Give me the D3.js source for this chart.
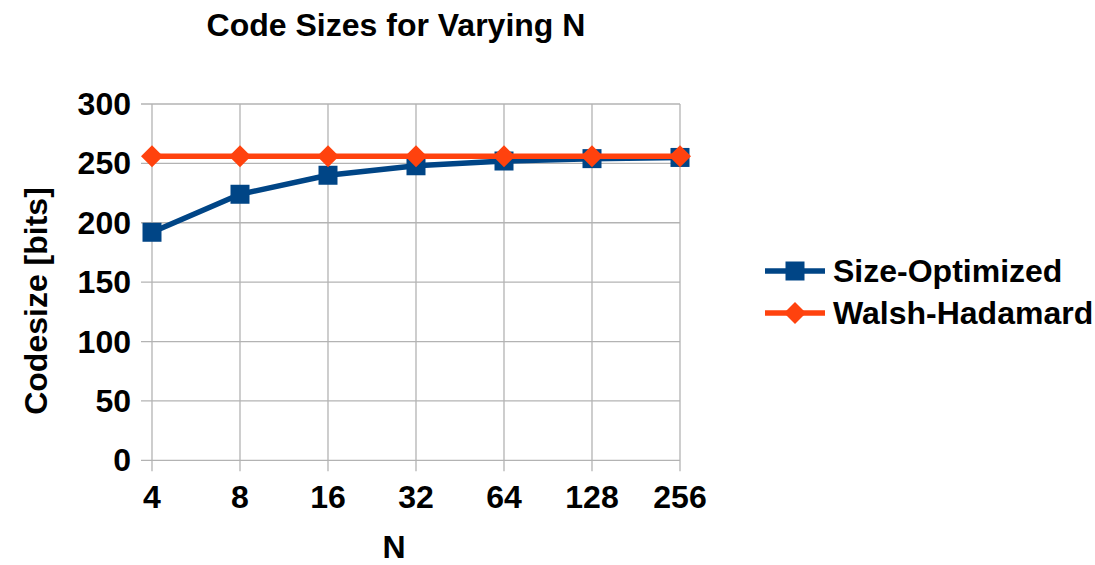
<!DOCTYPE html>
<html>
<head>
<meta charset="utf-8">
<script src="https://cdn.jsdelivr.net/npm/d3@7"></script>
<style>
  html, body { margin: 0; padding: 0; background: #fff; }
  svg text { font-family: "Liberation Sans", Arial, sans-serif; font-weight: bold; fill: #000; }
</style>
</head>
<body>
<svg id="chart" width="1095" height="565"></svg>
<script>
// Code length per input size N
const categories = ["4", "8", "16", "32", "64", "128", "256"];
const sizeOptimized = [192, 224, 240, 248, 252, 254, 255];
const walshHadamard = [256, 256, 256, 256, 256, 256, 256];
const yTicks = [0, 50, 100, 150, 200, 250, 300];

const svg = d3.select("#chart");
const plot = { left: 152, right: 680, top: 104, bottom: 460.3 };
const fontSize = "32px";

const x = d3.scalePoint().domain(categories).range([plot.left, plot.right]);
const y = d3.scaleLinear().domain([0, 300]).range([plot.bottom, plot.top]);

// horizontal grid lines with outside ticks
svg.append("g")
  .selectAll("line")
  .data(yTicks)
  .join("line")
  .attr("x1", plot.left - 11).attr("x2", plot.right)
  .attr("y1", d => y(d)).attr("y2", d => y(d))
  .attr("stroke", "#b3b3b3").attr("stroke-width", 1.3);

// vertical grid lines
svg.append("g")
  .selectAll("line")
  .data(categories)
  .join("line")
  .attr("x1", d => x(d)).attr("x2", d => x(d))
  .attr("y1", plot.top).attr("y2", plot.bottom + 11)
  .attr("stroke", "#b3b3b3").attr("stroke-width", 1.3);

// y tick labels
svg.append("g")
  .selectAll("text")
  .data(yTicks)
  .join("text")
  .attr("x", plot.left - 21)
  .attr("y", d => y(d) + 11)
  .attr("text-anchor", "end")
  .style("font-size", fontSize)
  .text(d => d);

// x tick labels
svg.append("g")
  .selectAll("text")
  .data(categories)
  .join("text")
  .attr("x", d => x(d))
  .attr("y", 508)
  .attr("text-anchor", "middle")
  .style("font-size", fontSize)
  .text(d => d);

// title and axis titles
svg.append("text").attr("x", 396).attr("y", 36).attr("text-anchor", "middle")
  .style("font-size", fontSize).text("Code Sizes for Varying N");
svg.append("text").attr("x", 394).attr("y", 558).attr("text-anchor", "middle")
  .style("font-size", fontSize).text("N");
svg.append("text")
  .attr("transform", "translate(47,301) rotate(-90)")
  .attr("text-anchor", "middle")
  .style("font-size", fontSize).text("Codesize [bits]");

const line = d3.line().x((d, i) => x(categories[i])).y(d => y(d));

const series = [
  { name: "Size-Optimized", values: sizeOptimized, color: "#004586", marker: "square" },
  { name: "Walsh-Hadamard", values: walshHadamard, color: "#ff420e", marker: "diamond" }
];

const markerPath = (type, cx, cy) => {
  if (type === "square") {
    const s = 9.5;
    return `M${cx - s},${cy - s}H${cx + s}V${cy + s}H${cx - s}Z`;
  }
  const s = 11;
  return `M${cx},${cy - s}L${cx + s},${cy}L${cx},${cy + s}L${cx - s},${cy}Z`;
};

series.forEach(s => {
  const g = svg.append("g");
  g.append("path")
    .datum(s.values)
    .attr("d", line)
    .attr("fill", "none")
    .attr("stroke", s.color)
    .attr("stroke-width", 5.5)
    .attr("stroke-linejoin", "round");
  g.selectAll("path.m")
    .data(s.values)
    .join("path")
    .attr("class", "m")
    .attr("d", (d, i) => markerPath(s.marker, x(categories[i]), y(d)))
    .attr("fill", s.color);
});

// legend
const legend = svg.append("g");
series.forEach((s, i) => {
  const ly = 271 + i * 42;
  legend.append("line")
    .attr("x1", 765).attr("x2", 825).attr("y1", ly).attr("y2", ly)
    .attr("stroke", s.color).attr("stroke-width", 5.5);
  legend.append("path").attr("d", markerPath(s.marker, 795, ly)).attr("fill", s.color);
  legend.append("text").attr("x", 833).attr("y", ly + 11)
    .style("font-size", fontSize).text(s.name);
});
</script>
</body>
</html>
